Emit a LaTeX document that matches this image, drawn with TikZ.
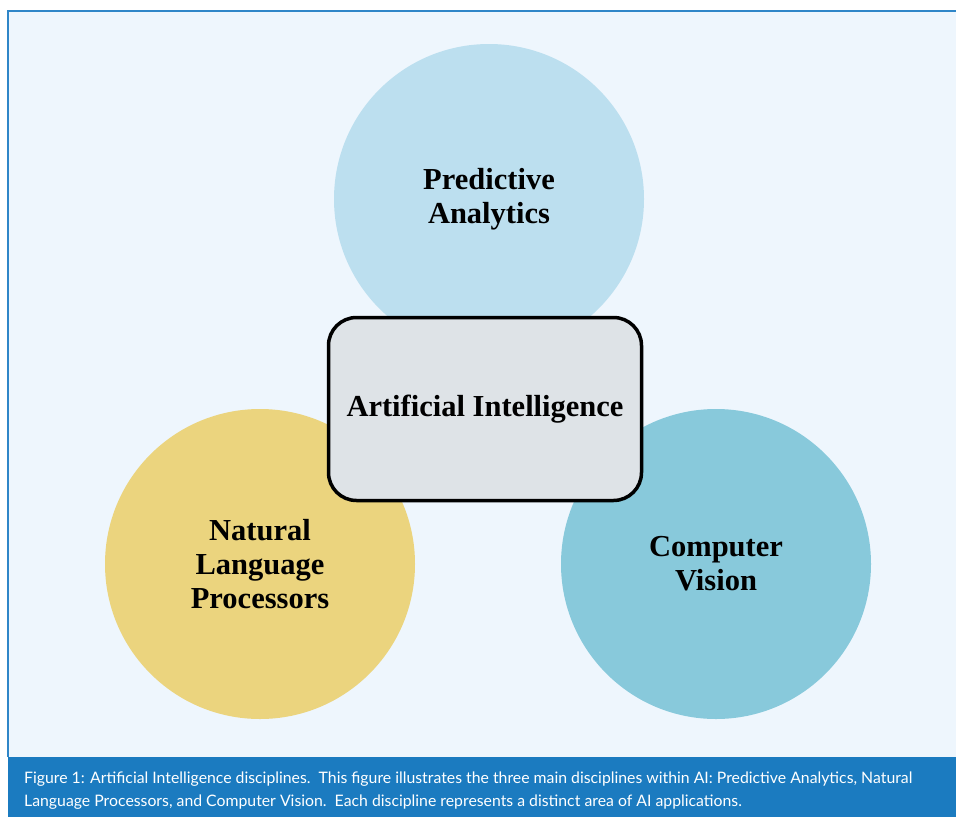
\documentclass[tikz,border=0pt]{standalone}
\usepackage{fontspec}
\setmainfont{Liberation Serif}
\newfontfamily\capfont{Lato}
\usepackage{tikz}
\usetikzlibrary{positioning}

\definecolor{panelbg}{HTML}{EEF6FD}
\definecolor{panelline}{HTML}{2F86C8}
\definecolor{capband}{HTML}{1B7BC0}
\definecolor{predblue}{HTML}{BCDFEF}
\definecolor{visblue}{HTML}{88C9DB}
\definecolor{nlpyellow}{HTML}{EBD47E}
\definecolor{boxgray}{HTML}{DEE3E7}

\tikzset{
  discipline/.style = {circle, minimum size = 310pt, inner sep = 0pt, align = center,
    font = \fontsize{30.5}{34}\selectfont\bfseries},
  core/.style = {draw = black, line width = 3.5pt, rounded corners = 28pt, fill = boxgray,
    minimum width = 313pt, minimum height = 183pt, font = \fontsize{30.5}{34}\selectfont\bfseries}
}

\begin{document}
\begin{tikzpicture}[x = 1pt, y = -1pt]
\useasboundingbox (0,0) rectangle (956,817);
\fill[white] (0,0) rectangle (956,817);
\fill[panelbg] (8,11) rectangle (956,757);
\draw[panelline, line width = 1.5pt] (8,757) -- (8,11) -- (956,11);
\fill[capband] (8,757) rectangle (956,817);

\node[discipline, fill = predblue] (pred) at (489,199) {Predictive\\Analytics};
\node[discipline, fill = nlpyellow] (nlp) at (260,564) {Natural\\Language\\Processors};
\node[discipline, fill = visblue] (vis) at (716,564) {Computer\\Vision};
\node[core] (ai) at (485,409) {Artificial Intelligence};

\node[anchor = north west, text = white, align = left, inner sep = 0pt,
  font = \capfont\fontsize{15.8}{23}\selectfont] (cap) at (24,772)
  {Figure 1: Artificial Intelligence disciplines.\ \ This figure illustrates the three main disciplines within AI: Predictive Analytics, Natural\\
   Language Processors, and Computer Vision.\ \ Each discipline represents a distinct area of AI applications.};
\end{tikzpicture}
\end{document}
